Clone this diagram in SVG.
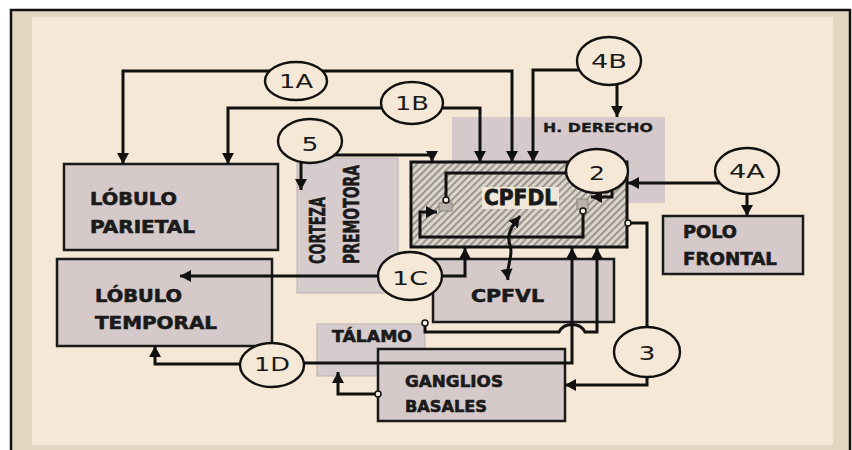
<svg xmlns="http://www.w3.org/2000/svg" width="852" height="450" viewBox="0 0 852 450">
<defs>
<marker id="ar" markerUnits="userSpaceOnUse" markerWidth="12" markerHeight="12" refX="11" refY="6" orient="auto-start-reverse"><path d="M0,0 L11,6 L0,12 z" fill="#111"/></marker>
<pattern id="hatch" patternUnits="userSpaceOnUse" width="5" height="5" patternTransform="rotate(45)"><rect width="5" height="5" fill="#dad4ca"/><rect width="1.8" height="5" fill="#948e86"/></pattern>
<style>
.box{fill:#d5c9ca;stroke:#1a1a1a;stroke-width:2.5}
.lt{fill:#d7cccd;stroke:#b9b0b0;stroke-width:1}
.lbl{font-family:"DejaVu Sans",Verdana,sans-serif;font-weight:bold;fill:#1a1a1a;stroke:#1a1a1a;stroke-width:0.6}
.cl{font-family:"DejaVu Sans",Verdana,sans-serif;font-size:20px;fill:#1a1a1a;text-anchor:middle}
.ln{fill:none;stroke:#111;stroke-width:3}
.ell{fill:#f6e8d6;stroke:#111;stroke-width:2.4}
.knob{fill:#f4eee4;stroke:#111;stroke-width:1.5}
.syn{fill:#b8b2aa;stroke:#8a847c;stroke-width:1}
</style>
</defs>
<g id="frame">
<rect x="11" y="10" width="839" height="445" fill="#e2d6c2" stroke="#111" stroke-width="2.5"/>
<rect x="32" y="17" width="801" height="428" fill="#f6e8d6"/>
</g>
<g id="n-hderecho">
<rect x="452" y="117" width="213" height="86" fill="#d5c9cc"/>
<text class="lbl" x="543" y="132" font-size="12" textLength="110" lengthAdjust="spacingAndGlyphs" style="stroke-width:0.3">H. DERECHO</text>
</g>
<g id="n-premotora">
<rect class="lt" x="297" y="158" width="101" height="135"/>
<text class="lbl" font-size="21" transform="translate(325,264) rotate(-90)" textLength="67" lengthAdjust="spacingAndGlyphs">CORTEZA</text>
<text class="lbl" font-size="21" transform="translate(359,264) rotate(-90)" textLength="99" lengthAdjust="spacingAndGlyphs">PREMOTORA</text>
</g>
<g id="n-parietal">
<rect class="box" x="64" y="164" width="214" height="86"/>
<text class="lbl" x="90" y="205" font-size="17" textLength="87" lengthAdjust="spacingAndGlyphs">LÓBULO</text>
<text class="lbl" x="90" y="233" font-size="17" textLength="105" lengthAdjust="spacingAndGlyphs">PARIETAL</text>
</g>
<g id="n-temporal">
<rect class="box" x="57" y="259" width="215" height="87"/>
<text class="lbl" x="95" y="302" font-size="17" textLength="87" lengthAdjust="spacingAndGlyphs">LÓBULO</text>
<text class="lbl" x="95" y="329" font-size="17" textLength="122" lengthAdjust="spacingAndGlyphs">TEMPORAL</text>
</g>
<g id="n-cpfvl">
<rect class="box" x="433" y="259" width="181" height="63" stroke="#333" stroke-width="2"/>
<text class="lbl" x="471" y="302" font-size="18" textLength="73" lengthAdjust="spacingAndGlyphs">CPFVL</text>
</g>
<g id="n-polo">
<rect class="box" x="663" y="216" width="140" height="58" stroke="#333" stroke-width="2"/>
<text class="lbl" x="683" y="238" font-size="17" textLength="54" lengthAdjust="spacingAndGlyphs">POLO</text>
<text class="lbl" x="683" y="265" font-size="17" textLength="94" lengthAdjust="spacingAndGlyphs">FRONTAL</text>
</g>
<g id="n-talamo">
<rect class="lt" x="317" y="324" width="108" height="52"/>
<text class="lbl" x="332" y="342" font-size="16" textLength="80" lengthAdjust="spacingAndGlyphs">TÁLAMO</text>
</g>
<g id="n-ganglios">
<rect class="box" x="378" y="349" width="187" height="72"/>
<text class="lbl" x="405" y="387" font-size="16" textLength="98" lengthAdjust="spacingAndGlyphs">GANGLIOS</text>
<text class="lbl" x="405" y="412" font-size="16" textLength="82" lengthAdjust="spacingAndGlyphs">BASALES</text>
</g>
<g id="n-cpfdl">
<rect x="411" y="162" width="216" height="85" fill="url(#hatch)" stroke="#111" stroke-width="3"/>
<rect x="482" y="187" width="77" height="22" fill="#eee7da"/>
<text class="lbl" x="484" y="205" font-size="21" textLength="73" lengthAdjust="spacingAndGlyphs" style="stroke-width:0.8">CPFDL</text>
<rect class="syn" x="439" y="203" width="13" height="8"/>
<rect class="syn" x="577" y="199" width="11" height="10"/>
<path class="ln" d="M580,173 H446 V197"/>
<circle class="knob" cx="446" cy="200" r="3"/>
<path class="ln" d="M583,212 V237 H420 V212 H437" marker-end="url(#ar)"/>
<circle class="knob" cx="583" cy="211" r="3"/>
<path class="ln" d="M612,185 V197 H591" marker-end="url(#ar)"/>
</g>
<g id="connectors">
<path class="ln" d="M296,71 H123 V164" marker-end="url(#ar)"/>
<path class="ln" d="M296,71 H512 V162" marker-end="url(#ar)"/>
<path class="ln" d="M412,108 H228 V164" marker-end="url(#ar)"/>
<path class="ln" d="M412,108 H480 V162" marker-end="url(#ar)"/>
<path class="ln" d="M609,70 H533 V162" marker-end="url(#ar)"/>
<path class="ln" d="M617,70 V117" marker-end="url(#ar)"/>
<path class="ln" d="M310,155 H432 V162" marker-end="url(#ar)"/>
<path class="ln" d="M301,150 V190" marker-end="url(#ar)"/>
<path class="ln" d="M747,183 H628" marker-end="url(#ar)"/>
<path class="ln" d="M747,183 V216" marker-end="url(#ar)"/>
<path class="ln" d="M410,276 H180" marker-end="url(#ar)"/>
<path class="ln" d="M410,276 H465 V248" marker-end="url(#ar)"/>
<path class="ln" d="M272,364 H155 V346" marker-end="url(#ar)"/>
<path class="ln" d="M272,363 H572 V248" marker-end="url(#ar)"/>
<path class="ln" d="M630,223 H647 V352"/>
<circle class="knob" cx="628" cy="223" r="3"/>
<path class="ln" d="M647,352 V385 H565" marker-end="url(#ar)"/>
<path class="ln" d="M425,326 V332 H559 C564,322 580,322 585,332 H597 V248" marker-end="url(#ar)"/>
<circle class="knob" cx="425" cy="323" r="3"/>
<path class="ln" d="M375,394 H338 V372" marker-end="url(#ar)"/>
<circle class="knob" cx="378" cy="394" r="3"/>
<path class="ln" d="M520,216 C512,226 506,234 510,245 C514,256 506,264 508,280" marker-start="url(#ar)" marker-end="url(#ar)"/>
</g>
<g id="c-1A"><ellipse class="ell" cx="296" cy="81" rx="31" ry="19"/><text class="cl" x="296" y="88" textLength="34" lengthAdjust="spacingAndGlyphs">1A</text></g>
<g id="c-1B"><ellipse class="ell" cx="412" cy="103" rx="31" ry="21"/><text class="cl" x="412" y="110" textLength="34" lengthAdjust="spacingAndGlyphs">1B</text></g>
<g id="c-5"><ellipse class="ell" cx="310" cy="141" rx="32" ry="22"/><text class="cl" x="310" y="151" textLength="17" lengthAdjust="spacingAndGlyphs">5</text></g>
<g id="c-4B"><ellipse class="ell" cx="609" cy="61" rx="32" ry="24"/><text class="cl" x="609" y="68" textLength="36" lengthAdjust="spacingAndGlyphs">4B</text></g>
<g id="c-2"><ellipse class="ell" cx="597" cy="171" rx="31" ry="22"/><text class="cl" x="597" y="180" textLength="16" lengthAdjust="spacingAndGlyphs">2</text></g>
<g id="c-4A"><ellipse class="ell" cx="747" cy="171" rx="32" ry="23"/><text class="cl" x="747" y="178" textLength="36" lengthAdjust="spacingAndGlyphs">4A</text></g>
<g id="c-1C"><ellipse class="ell" cx="410" cy="276" rx="32" ry="24"/><text class="cl" x="410" y="285" textLength="36" lengthAdjust="spacingAndGlyphs">1C</text></g>
<g id="c-1D"><ellipse class="ell" cx="272" cy="365" rx="32" ry="22"/><text class="cl" x="272" y="371" textLength="36" lengthAdjust="spacingAndGlyphs">1D</text></g>
<g id="c-3"><ellipse class="ell" cx="647" cy="352" rx="33" ry="25"/><text class="cl" x="647" y="360" textLength="17" lengthAdjust="spacingAndGlyphs">3</text></g>
</svg>
